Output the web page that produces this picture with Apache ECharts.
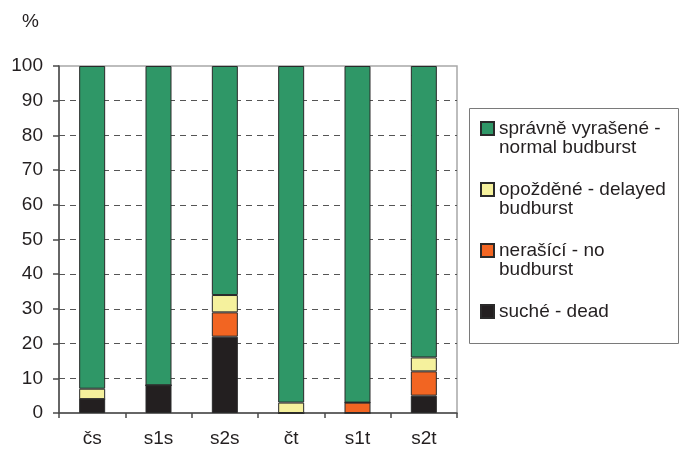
<!DOCTYPE html>
<html>
<head>
<meta charset="utf-8">
<script src="https://cdn.jsdelivr.net/npm/echarts@6/dist/echarts.min.js"></script>
<style>
  html, body { margin: 0; padding: 0; background: #fff; }
  #chart { width: 685px; height: 451px; }
</style>
</head>
<body>
<div id="chart"></div>
<script>
// Budburst categories per variant (percent of plants)
const categories = ['čs', 's1s', 's2s', 'čt', 's1t', 's2t'];
const dead       = [4, 8, 22, 0, 0, 5];
const noBudburst = [0, 0, 7, 0, 3, 7];
const delayed    = [3, 0, 5, 3, 0, 4];
const normal     = [93, 92, 66, 97, 97, 84];
const yTicks = { min: 0, max: 100, step: 10 };

const NAME_NORMAL = 'správně vyrašené -\nnormal budburst';
const NAME_DELAYED = 'opožděné - delayed\nbudburst';
const NAME_NO = 'nerašící - no\nbudburst';
const NAME_DEAD = 'suché - dead';

const FONT = '"Liberation Sans", Arial, sans-serif';
const TEXT = '#231f20';

const chart = echarts.init(document.getElementById('chart'), null, { renderer: 'canvas' });

function barSeries(name, data, color) {
  return {
    name: name,
    type: 'bar',
    stack: 'total',
    barWidth: 26,
    data: data,
    itemStyle: { color: color, borderColor: '#2a2a2a', borderWidth: 1 },
    emphasis: { disabled: true }
  };
}

// Legend labels are padded with blank lines so the swatch sits beside the first line
function legendLabel(name) {
  return name.indexOf('\n') >= 0 ? '\n' + name : '\n' + name + '\n';
}

chart.setOption({
  animation: false,
  backgroundColor: '#ffffff',
  textStyle: { fontFamily: FONT },
  title: {
    text: '%',
    left: 17,
    top: 7,
    textStyle: { fontSize: 19, fontWeight: 'normal', color: TEXT, fontFamily: FONT }
  },
  grid: {
    left: 59, top: 66, right: 228, bottom: 38,
    show: true, borderColor: '#a8a8a8', borderWidth: 1.5, backgroundColor: 'transparent'
  },
  xAxis: {
    type: 'category',
    data: categories,
    axisLine: { lineStyle: { color: '#4a4a4a', width: 1.5 } },
    axisTick: { show: true, length: 5, lineStyle: { color: '#4a4a4a', width: 1.5 } },
    axisLabel: { fontSize: 19, color: TEXT, margin: 16, fontFamily: FONT },
    splitLine: { show: false }
  },
  yAxis: {
    type: 'value',
    min: yTicks.min, max: yTicks.max, interval: yTicks.step,
    axisLine: { show: true, lineStyle: { color: '#4a4a4a', width: 1.5 } },
    axisTick: { show: true, length: 6, lineStyle: { color: '#4a4a4a', width: 1.5 } },
    axisLabel: { fontSize: 19, color: TEXT, margin: 16, fontFamily: FONT },
    splitLine: {
      show: true, showMaxLine: false, showMinLine: false,
      lineStyle: { color: '#555555', width: 1, type: [6, 5] }
    }
  },
  legend: {
    orient: 'vertical',
    left: 480, top: 100,
    padding: 0,
    itemWidth: 13, itemHeight: 13, itemGap: 4,
    icon: 'rect',
    selectedMode: false,
    formatter: legendLabel,
    textStyle: { fontSize: 19, lineHeight: 19, color: TEXT, fontFamily: FONT },
    data: [NAME_NORMAL, NAME_DELAYED, NAME_NO, NAME_DEAD]
  },
  graphic: [{
    type: 'rect',
    shape: { x: 469.5, y: 108.5, width: 209, height: 235 },
    style: { fill: 'none', stroke: '#7a7a7a', lineWidth: 1 },
    silent: true
  }],
  series: [
    barSeries(NAME_DEAD, dead, '#231f20'),
    barSeries(NAME_NO, noBudburst, '#f26522'),
    barSeries(NAME_DELAYED, delayed, '#f5f19d'),
    barSeries(NAME_NORMAL, normal, '#2f9767')
  ]
});
</script>
</body>
</html>
